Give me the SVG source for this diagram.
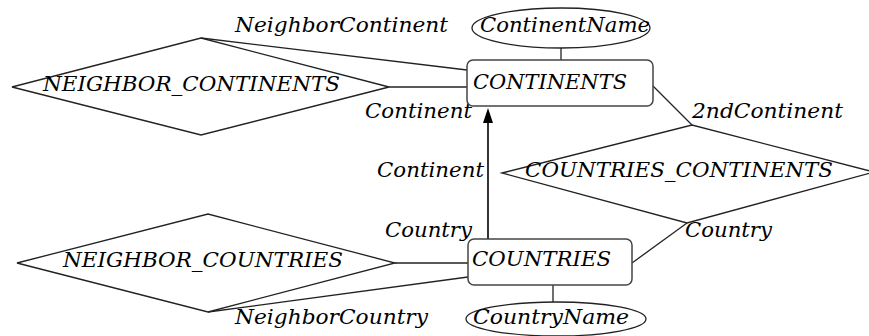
<svg xmlns="http://www.w3.org/2000/svg" width="869" height="336" viewBox="0 0 869 336">
<style>
.shape{fill:#fff;stroke:#222;stroke-width:1.3}
.ent{fill:#fff;stroke:#444;stroke-width:1.5}
.ln{fill:none;stroke:#222;stroke-width:1.3}
text{font-family:"DejaVu Serif","Liberation Serif",serif;font-style:italic;font-size:21px;fill:#000}
</style>
<rect width="869" height="336" fill="#fff"/>
<g id="connectors">
<line class="ln" x1="201" y1="38" x2="467" y2="70"/>
<line class="ln" x1="389" y1="87" x2="467" y2="87"/>
<line class="ln" x1="561" y1="48" x2="561" y2="60"/>
<line class="ln" x1="653" y1="86" x2="692" y2="125"/>
<line class="ln" x1="632" y1="263" x2="687" y2="223"/>
<line class="ln" x1="395" y1="263" x2="468" y2="263"/>
<line class="ln" x1="208" y1="312" x2="468" y2="277"/>
<line class="ln" x1="553" y1="285" x2="553" y2="302"/>
<line x1="488" y1="239" x2="488" y2="121" stroke="#000" stroke-width="1.6"/>
<path d="M483,123 L488,108 L493,123 Z" fill="#000"/>
<text x="235" y="32" textLength="213" lengthAdjust="spacingAndGlyphs">NeighborContinent</text>
<text x="365" y="118" textLength="107" lengthAdjust="spacingAndGlyphs">Continent</text>
<text x="377" y="177" textLength="107" lengthAdjust="spacingAndGlyphs">Continent</text>
<text x="385" y="237" textLength="87" lengthAdjust="spacingAndGlyphs">Country</text>
<text x="692" y="118" textLength="151" lengthAdjust="spacingAndGlyphs">2ndContinent</text>
<text x="685" y="237" textLength="87" lengthAdjust="spacingAndGlyphs">Country</text>
<text x="235" y="324" textLength="193" lengthAdjust="spacingAndGlyphs">NeighborCountry</text>
</g>
<g id="neighbor_continents">
<polygon class="shape" points="12,87 201,38 389,87 201,135"/>
<text x="43" y="91" textLength="297" lengthAdjust="spacingAndGlyphs">NEIGHBOR_CONTINENTS</text>
</g>
<g id="continent_name">
<ellipse class="shape" cx="561" cy="28" rx="89" ry="20"/>
<text x="480" y="32" textLength="170" lengthAdjust="spacingAndGlyphs">ContinentName</text>
</g>
<g id="continents">
<rect class="ent" x="467" y="60" width="186" height="46" rx="6"/>
<text x="473" y="89" textLength="154" lengthAdjust="spacingAndGlyphs">CONTINENTS</text>
</g>
<g id="countries_continents">
<polygon class="shape" points="502,173 692,125 874,172 687,223"/>
<text x="525" y="177" textLength="308" lengthAdjust="spacingAndGlyphs">COUNTRIES_CONTINENTS</text>
</g>
<g id="countries">
<rect class="ent" x="468" y="239" width="164" height="46" rx="6"/>
<text x="472" y="266" textLength="139" lengthAdjust="spacingAndGlyphs">COUNTRIES</text>
</g>
<g id="neighbor_countries">
<polygon class="shape" points="17,263 208,214 395,263 208,312"/>
<text x="63" y="267" textLength="280" lengthAdjust="spacingAndGlyphs">NEIGHBOR_COUNTRIES</text>
</g>
<g id="country_name">
<ellipse class="shape" cx="556" cy="319" rx="90" ry="17"/>
<text x="473" y="324" textLength="156" lengthAdjust="spacingAndGlyphs">CountryName</text>
</g>
</svg>
